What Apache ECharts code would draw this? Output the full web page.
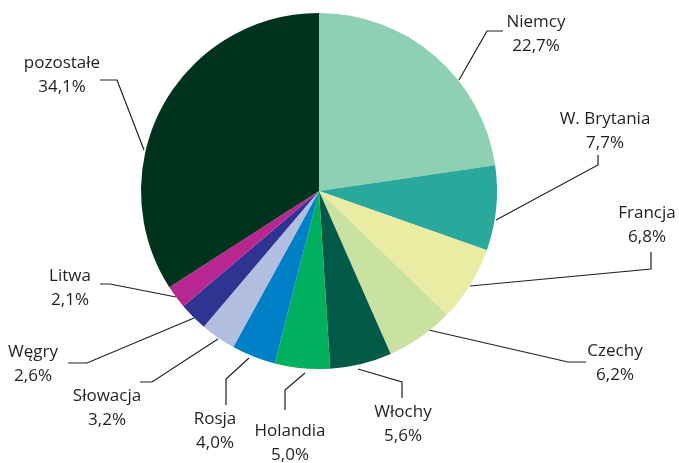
<!DOCTYPE html>
<html><head><meta charset="utf-8">
<script src="https://cdn.jsdelivr.net/npm/echarts@6/dist/echarts.min.js"></script>
<style>html,body{margin:0;padding:0;background:#fff}#c{width:679px;height:463px}</style>
</head><body><div id="c"></div>
<script>
const categories = ['Niemcy','W. Brytania','Francja','Czechy','Włochy','Holandia','Rosja','Słowacja','Węgry','Litwa','pozostałe'];
const values = [22.7, 7.7, 6.8, 6.2, 5.6, 5.0, 4.0, 3.2, 2.6, 2.1, 34.1];
const colors = ['#8dd0b3','#2aa89b','#ebeca3','#c9e1a1','#005a47','#00b05e','#0080c6','#b1bee0','#2f3391','#b8268f','#00331d'];
// label placement (center x, middle y) and leader line points
const labelPos = [[536,34],[605,131],[647,225],[615,363],[403,424],[290,443],[215,431],[107,408],[33,364],[70,288],[62,75]];
const leaderPts = [
  [[459,80],[487,31],[503,31]],
  [[496,220],[598,165],[598,155]],
  [[470,286],[651,269],[651,252]],
  [[420,328],[568,362],[586,362]],
  [[358,369],[402,382],[402,398]],
  [[305,373],[285,390],[285,410]],
  [[249,358],[226,379],[226,405]],
  [[218,339],[152,382],[140,382]],
  [[194,318],[87,363],[68,363]],
  [[176,297],[110,284],[100,284]],
  [[144,150],[117,80],[100,80]]
];
const chart = echarts.init(document.getElementById('c'));
chart.setOption({
  animation:false,
  series:[{
    type:'pie',
    center:[319,191],
    radius:178,
    startAngle:90,
    clockwise:true,
    avoidLabelOverlap:false,
    data: categories.map((n,i)=>({name:n,value:values[i],itemStyle:{color:colors[i]}})),
    label:{
      show:true,
      formatter:p=>p.name+'\n'+p.value.toFixed(1).replace('.',',')+'%',
      fontFamily:'Open Sans',
      fontSize:17,
      lineHeight:24,
      color:'#231f20',
      align:'center'
    },
    labelLine:{show:true,lineStyle:{color:'#231f20',width:1.2}},
    labelLayout:function(p){
      const i=p.dataIndex;
      return {x:labelPos[i][0],y:labelPos[i][1],align:'center',verticalAlign:'middle',labelLinePoints:leaderPts[i]};
    },
    emphasis:{disabled:true}
  }]
});
</script></body></html>
